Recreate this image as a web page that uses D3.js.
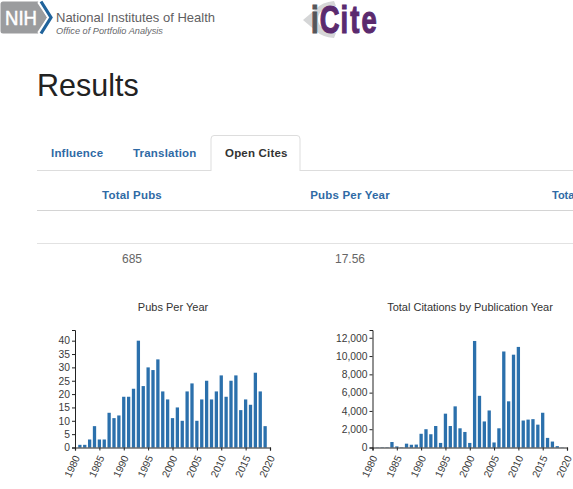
<!DOCTYPE html>
<html>
<head>
<meta charset="utf-8">
<script src="https://cdnjs.cloudflare.com/ajax/libs/d3/7.8.5/d3.min.js"></script>
<style>
html,body{margin:0;padding:0;background:#fff;overflow:hidden}
svg{display:block;font-family:"Liberation Sans",Arial,sans-serif}
.axis text{font-size:10.3px;fill:#3a3a3a}
.axis path,.axis line{stroke:#222;fill:none}
</style>
</head>
<body>
<svg id="page" width="573" height="489"></svg>
<script>
const years = [1981,1982,1983,1984,1985,1986,1987,1988,1989,1990,1991,1992,1993,1994,1995,1996,1997,1998,1999,2000,2001,2002,2003,2004,2005,2006,2007,2008,2009,2010,2011,2012,2013,2014,2015,2016,2017,2018,2019];
const pubsPerYear = [1,1,3,8,3,3,13,11,12,19,19,22,40,23,30,29,33,21,18,11,15,10,21,24,10,18,25,18,21,27,19,25,27,14,18,16,28,21,8];
const citationsPerYear = [20,30,30,600,120,30,420,300,320,1500,2000,1450,2350,500,3700,2350,4500,2100,1700,500,11650,5650,2850,4050,550,2100,10500,5050,10150,11000,2950,3050,3100,2500,3800,1050,650,150,20];
const xTicks = [1980,1985,1990,1995,2000,2005,2010,2015,2020];
const pubsTicks = [0,5,10,15,20,25,30,35,40];
const citationTicks = [0,2000,4000,6000,8000,10000,12000];
const tabs = ["Influence","Translation","Open Cites"];
const tableHeads = ["Total Pubs","Pubs Per Year","Tota"];
const tableValues = ["685","17.56"];

const svg = d3.select("#page");
const txt = (x,y,s,size,fill,anchor="start",weight="normal",extra={})=>{
  const t = svg.append("text").attr("x",x).attr("y",y).text(s)
    .attr("font-size",size).attr("fill",fill).attr("text-anchor",anchor).attr("font-weight",weight);
  Object.entries(extra).forEach(([k,v])=>t.attr(k,v));
  return t;
};
const rule = (x1,x2,y,c)=>svg.append("line").attr("x1",x1).attr("x2",x2).attr("y1",y).attr("y2",y).attr("stroke",c).attr("stroke-width",1);

// NIH logo
svg.append("path").attr("d","M3 1.5H38L47 17.5L38 33.5H3Q0.5 33.5 0.5 31V4Q0.5 1.5 3 1.5Z").attr("fill","#9b9c9e");
svg.append("path").attr("d","M40 1L51 17.5L40 34").attr("fill","none").attr("stroke","#fff").attr("stroke-width",6.5);
svg.append("path").attr("d","M41 1.5L51 17.5L41 33.5").attr("fill","none").attr("stroke","#20639b").attr("stroke-width",3.2);
txt(5,25,"NIH",20,"#fff","start","normal",{"textLength":32,"lengthAdjust":"spacingAndGlyphs","stroke":"#fff","stroke-width":0.5});
txt(56,22,"National Institutes of Health",13,"#5f6062");
txt(56,34,"Office of Portfolio Analysis",9.2,"#66676a","start","normal",{"font-style":"italic"});

// iCite logo
svg.append("path").attr("d","M334 1Q322 2 316 9L303 20L316 31Q322 37 334 38L336 33Q318 30 318 19Q318 8 336 6Z").attr("fill","#d5d6d7");
const logo = svg.append("text").attr("transform","translate(311,33) scale(0.72,1)")
  .attr("font-size",38).attr("font-weight","bold").attr("stroke-width",1.2);
logo.append("tspan").attr("fill","#55565a").attr("stroke","#55565a").text("i");
logo.append("tspan").attr("fill","#5b2a6e").attr("stroke","#5b2a6e").attr("dx",1.5).text("C");
logo.append("tspan").attr("fill","#5b2a6e").attr("stroke","#5b2a6e").attr("dx",1.5).attr("letter-spacing",3).text("ite");

txt(37,96,"Results",30.5,"#222");

// tabs
rule(37,573,170.5,"#ddd");
svg.append("path").attr("d","M211 171V139Q211 135.5 214 135.5H297Q300 135.5 300 139V171").attr("fill","#fff").attr("stroke","#ddd");
const tabX = [51,133,225], tabCol = ["#2f6aa5","#2f6aa5","#333"];
tabs.forEach((t,i)=>txt(tabX[i],157,t,11.5,tabCol[i],"start","bold",{"letter-spacing":"0.2"}));

// table
const colX = [132,350];
tableHeads.slice(0,2).forEach((t,i)=>txt(colX[i],199,t,11.5,"#2f6aa5","middle","bold",{"letter-spacing":"0.2"}));
txt(552,199,tableHeads[2],11,"#2f6aa5","start","bold");
rule(37,573,210.5,"#d4d4d4");
rule(37,573,243.5,"#e2e2e2");
tableValues.forEach((t,i)=>txt(colX[i],263,t,12,"#666","middle"));

function chart(title,titleX,left,right,top,bottom,yMax,values,yTicks,fmt){
  txt(titleX,311,title,11,"#333","middle");
  const x = d3.scaleLinear().domain([1980,2020]).range([left,right]);
  const y = d3.scaleLinear().domain([0,yMax]).range([bottom,top]);
  const g = svg.append("g");
  g.selectAll("rect").data(values).join("rect")
    .attr("x",(d,i)=>x(years[i])-1.65).attr("width",3.3)
    .attr("y",d=>y(d)).attr("height",d=>bottom-y(d)).attr("fill","#2b70ac");
  const gx = g.append("g").attr("class","axis").attr("transform",`translate(0,${bottom})`)
    .call(d3.axisBottom(x).tickValues(xTicks).tickFormat(d3.format("d")).tickSize(3).tickSizeOuter(3));
  gx.select("path").attr("stroke-width",1.2);
  gx.selectAll("text").attr("x",0).attr("y",0).attr("dy","0.35em")
    .attr("text-anchor","end").attr("transform","translate(1.5,8.5) rotate(-65)");
  const gy = g.append("g").attr("class","axis").attr("transform",`translate(${left},0)`)
    .call(d3.axisLeft(y).tickValues(yTicks).tickFormat(fmt).tickSize(3).tickSizeOuter(3));
  gy.selectAll("text").attr("x",-5);
}
chart("Pubs Per Year",173,75,270,330,447.5,44,pubsPerYear,pubsTicks,d3.format("d"));
chart("Total Citations by Publication Year",470,372.5,567,330,447.5,12850,citationsPerYear,citationTicks,d3.format(","));
</script>
</body>
</html>
